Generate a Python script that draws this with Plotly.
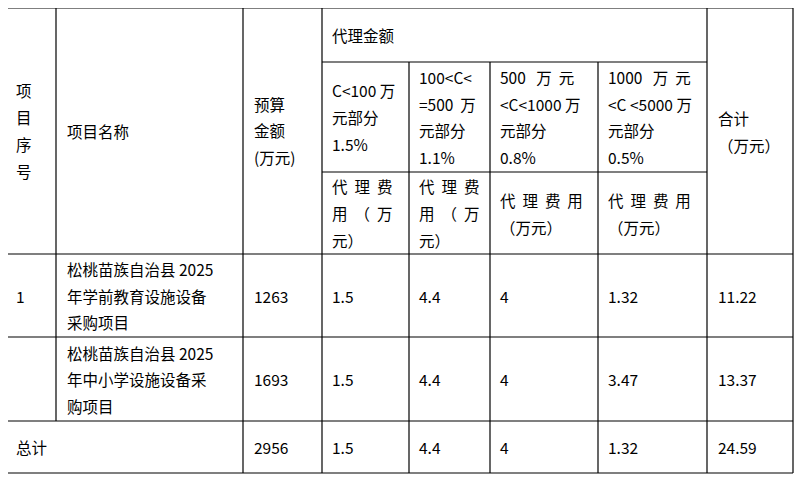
import plotly.graph_objects as go

# table content
header_seq = ["项", "目", "序", "号"]
header_name = "项目名称"
header_budget = ["预算", "金额", "(万元)"]
header_agency = "代理金额"
tier_labels = [
    ["C<100 万", "元部分", "1.5%"],
    ["100<C<", "=500  万", "元部分", "1.1%"],
    ["500   万  元", "<C<1000 万", "元部分", "0.8%"],
    ["1000   万  元", "<C <5000 万", "元部分", "0.5%"],
]
fee_labels = [
    ["代  理  费", "用  （  万", "元）"],
    ["代  理  费", "用  （  万", "元）"],
    ["代  理  费  用", "（万元）"],
    ["代  理  费  用", "（万元）"],
]
header_total = ["合计", "（万元）"]

row_seq = ["1", ""]
row_names = [
    ["松桃苗族自治县 2025", "年学前教育设施设备", "采购项目"],
    ["松桃苗族自治县 2025", "年中小学设施设备采", "购项目"],
]
row_budget = ["1263", "1693"]
row_fees = [["1.5", "4.4", "4", "1.32"], ["1.5", "4.4", "4", "3.47"]]
row_total = ["11.22", "13.37"]

sum_label = "总计"
sum_budget = "2956"
sum_fees = ["1.5", "4.4", "4", "1.32"]
sum_total = "24.59"

# grid geometry (pixels of the page)
xs = [7, 56, 243, 322, 409, 490, 598, 707, 793]
y_top, y_agency, y_tier, y_head, y_r1, y_r2, y_bot = 8, 62, 172, 254, 337, 421, 473
LH = 26.5
PAD = 9
OFF = 8  # page body margin

fig = go.Figure()
fig.add_trace(go.Scatter(x=[OFF, 804], y=[OFF, 479], mode="markers",
                         marker=dict(opacity=0), hoverinfo="skip"))

def line(x0, y0, x1, y1):
    fig.add_shape(type="line", x0=x0, y0=y0, x1=x1, y1=y1,
                  line=dict(color="black", width=1.2))

for y in [y_top, y_head, y_r1, y_r2, y_bot]:
    line(xs[0], y, xs[-1], y)
line(xs[3], y_agency, xs[7], y_agency)
line(xs[3], y_tier, xs[7], y_tier)
for i, x in enumerate(xs):
    if i in (0, 2, 3, 7, 8):
        line(x, y_top, x, y_bot)
    elif i == 1:
        line(x, y_top, x, y_r2)
    else:
        line(x, y_agency, x, y_bot)

def text(x, yc, lines, lh=LH):
    if isinstance(lines, str):
        lines = [lines]
    y0 = yc - lh * (len(lines) - 1) / 2
    for k, t in enumerate(lines):
        fig.add_annotation(x=x, y=y0 + k * lh, text=t, showarrow=False,
                           xanchor="left", yanchor="middle",
                           font=dict(family="Noto Sans CJK SC", size=15.5, color="black"))

text(xs[0] + PAD - 2, 130, header_seq, 27)
text(xs[1] + PAD, 131, header_name)
text(xs[2] + PAD, 130, header_budget)
text(xs[3] + PAD - 1, 35, header_agency)
for i in range(4):
    text(xs[3 + i] + PAD - 1, 117, tier_labels[i], 27 if len(tier_labels[i]) == 3 else 26.5)
    text(xs[3 + i] + PAD - 1, 213, fee_labels[i], 27)
text(xs[7] + PAD, 131, header_total, 27)

for r, (ya, yb) in enumerate([(y_head, y_r1), (y_r1, y_r2)]):
    yc = (ya + yb) / 2
    text(xs[0] + PAD - 2, yc, row_seq[r])
    text(xs[1] + PAD, yc, row_names[r])
    text(xs[2] + PAD, yc, row_budget[r])
    for i in range(4):
        text(xs[3 + i] + PAD - 1, yc, row_fees[r][i])
    text(xs[7] + PAD, yc, row_total[r])

yc = (y_r2 + y_bot) / 2
text(xs[0] + PAD - 2, yc, sum_label)
text(xs[2] + PAD, yc, sum_budget)
for i in range(4):
    text(xs[3 + i] + PAD - 1, yc, sum_fees[i])
text(xs[7] + PAD, yc, sum_total)

fig.update_xaxes(range=[OFF, 804 + OFF], visible=False)
fig.update_yaxes(range=[479 + OFF, OFF], visible=False)
fig.update_layout(width=804, height=479, margin=dict(l=0, r=0, t=0, b=0),
                  plot_bgcolor="white", paper_bgcolor="white", showlegend=False)
fig.write_html("out.html")
